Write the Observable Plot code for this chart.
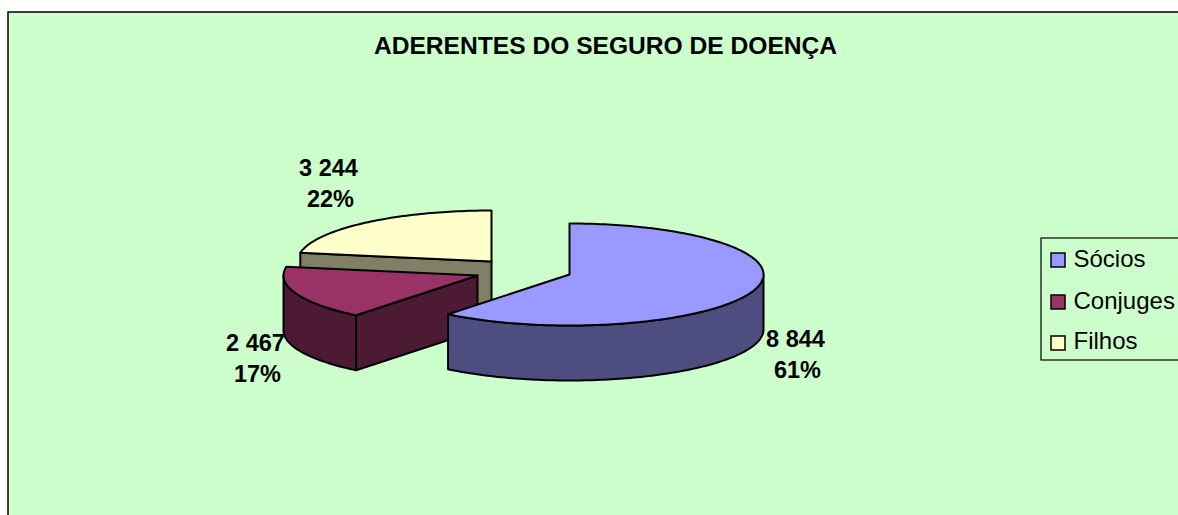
<!DOCTYPE html>
<html lang="pt">
<head>
<meta charset="utf-8">
<title>Aderentes do seguro de doença</title>
<style>
html,body{margin:0;padding:0;background:#fff;overflow:hidden}
svg{display:block}
</style>
<script src="https://cdn.jsdelivr.net/npm/d3@7"></script>
<script src="https://cdn.jsdelivr.net/npm/@observablehq/plot@0.6"></script>
</head>
<body>
<div id="chart"></div>
<script>
const chartTitle = "ADERENTES DO SEGURO DE DOENÇA";
const categories = ["Sócios", "Conjuges", "Filhos"];
const adherents = [8844, 2467, 3244];
const valueLabels = ["8 844", "2 467", "3 244"];
const percentLabels = ["61%", "17%", "22%"];
const topColors = ["#9999FF", "#993366", "#FFFFCC"];
const sideColors = ["#4D4D80", "#4D1A33", "#808066"];

// 3D pie layout
const centerX = [569, 477, 491];
const centerY = [274, 275, 261];
const rx = 194, ry = 51, depth = 55;
const labelX = [795, 255, 328];
const labelY = [339, 343, 168];
const labelGap = 31;

const total = d3.sum(adherents);
const cum = d3.cumsum(adherents);
const angleAt = i => (i < 0 ? 0 : cum[i] / total * 2 * Math.PI);
const rim = (i, a, dy = 0) => ({
  x: centerX[i] + rx * Math.sin(a),
  y: centerY[i] - ry * Math.cos(a) + dy
});
const arc = (i, a0, a1, dy = 0) => {
  const n = Math.max(2, Math.ceil(Math.abs(a1 - a0) / 0.02));
  return d3.range(n + 1).map(k => rim(i, a0 + (a1 - a0) * k / n, dy));
};
const apex = (i, dy = 0) => ({x: centerX[i], y: centerY[i] + dy});

const face = (pts, fill) =>
  Plot.line(pts, {x: "x", y: "y", fill, stroke: "#000", strokeWidth: 2, curve: "linear-closed"});

const marks = [];
// panel
marks.push(Plot.rect([0], {x1: () => 8, x2: () => 1200, y1: () => 12, y2: () => 540,
  fill: "#CCFFCC", stroke: "#000", strokeWidth: 1.5}));

// Filhos: cut wall behind, then top
{
  const i = 2, a0 = angleAt(1), a1 = 2 * Math.PI;
  marks.push(face([apex(i), rim(i, a0), rim(i, a0, depth), apex(i, depth)], sideColors[i]));
  marks.push(face([apex(i), ...arc(i, a0, a1)], topColors[i]));
}
// Conjuges: cut wall, rim wall up to the silhouette, top
{
  const i = 1, a0 = angleAt(0), a1 = angleAt(1), a2 = Math.min(a1, 1.5 * Math.PI);
  marks.push(face([apex(i), rim(i, a0), rim(i, a0, depth), apex(i, depth)], sideColors[i]));
  marks.push(face([...arc(i, a0, a2), ...arc(i, a2, a0, depth)], sideColors[i]));
  marks.push(face([apex(i), ...arc(i, a0, a1)], topColors[i]));
}
// Sócios: rim wall, top
{
  const i = 0, a1 = angleAt(0);
  marks.push(face([...arc(i, Math.PI / 2, a1), ...arc(i, a1, Math.PI / 2, depth)], sideColors[i]));
  marks.push(face([apex(i), ...arc(i, 0, a1)], topColors[i]));
}

const font = "Liberation Sans, Arial, sans-serif";
// title
marks.push(Plot.text([chartTitle], {x: () => 605, y: () => 46, text: d => d,
  fontFamily: font, fontWeight: "bold", fontSize: 24.6, fill: "#000"}));
// data labels
marks.push(Plot.text(categories.flatMap((c, i) => [
  {x: labelX[i], y: labelY[i], t: valueLabels[i]},
  {x: labelX[i] + 2, y: labelY[i] + labelGap, t: percentLabels[i]}
]), {x: "x", y: "y", text: "t", fontFamily: font, fontWeight: "bold", fontSize: 23.5, fill: "#000"}));

// legend
marks.push(Plot.rect([0], {x1: () => 1041, x2: () => 1200, y1: () => 238, y2: () => 360,
  fill: "#CCFFCC", stroke: "#000", strokeWidth: 1.2}));
const legendY = [260, 302, 343];
marks.push(Plot.rect(categories.map((c, i) => ({y: legendY[i], f: topColors[i]})), {
  x1: () => 1051, x2: () => 1065, y1: d => d.y - 7, y2: d => d.y + 7,
  fill: d => d.f, stroke: "#000", strokeWidth: 1.5}));
marks.push(Plot.text(categories.map((c, i) => ({y: legendY[i] - (i === 2 ? 2 : 1), t: c})), {
  x: () => 1073, y: "y", text: "t", textAnchor: "start",
  fontFamily: font, fontSize: 24, fill: "#000"}));

const plot = Plot.plot({
  width: 1178, height: 515, margin: 0,
  x: {type: "linear", domain: [0, 1178], range: [0, 1178], axis: null},
  y: {type: "linear", domain: [0, 515], range: [0, 515], axis: null},
  color: {type: "identity"},
  style: {background: "#fff"},
  marks
});
document.getElementById("chart").append(plot);
</script>
</body>
</html>
